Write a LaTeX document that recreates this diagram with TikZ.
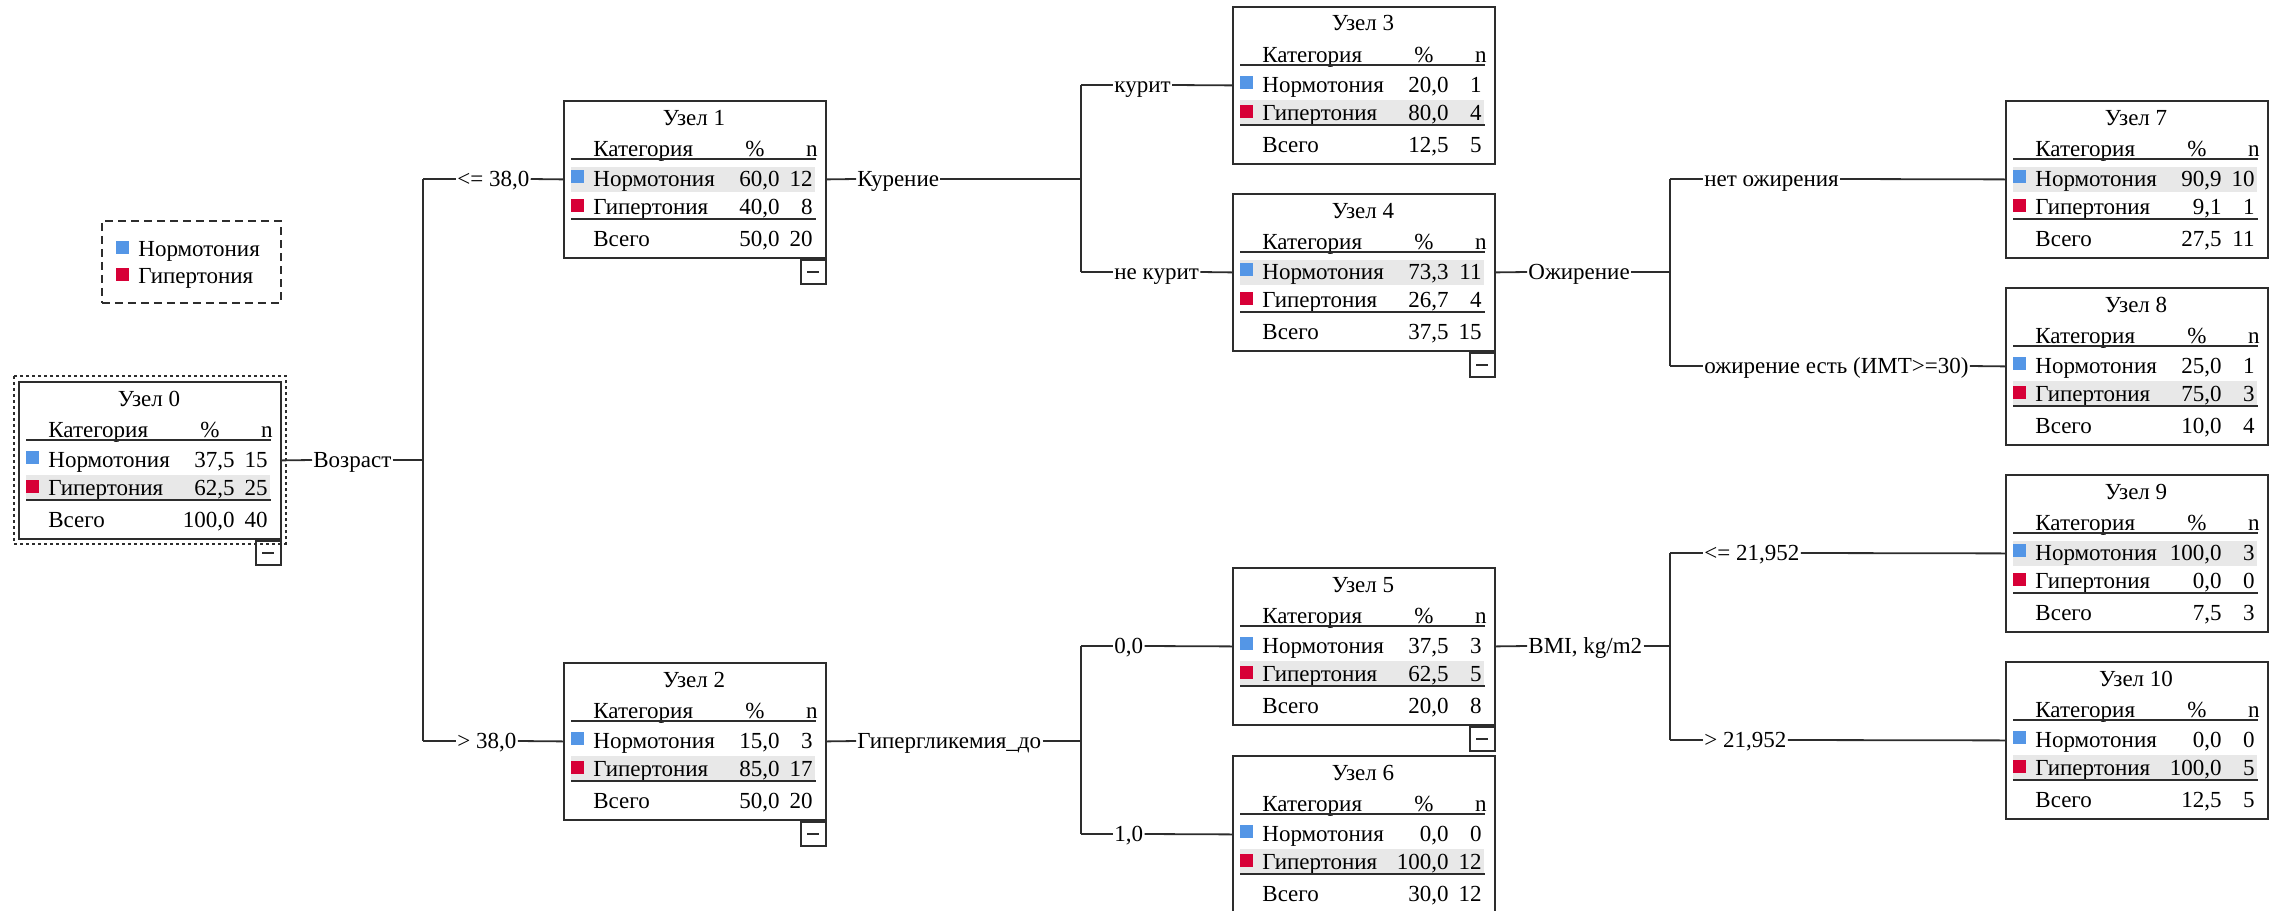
\documentclass[tikz,border=0pt]{standalone}
\usepackage{fontspec}
\setmainfont{Liberation Serif}
\definecolor{cblue}{RGB}{84,150,230}
\definecolor{cred}{RGB}{215,0,55}
\definecolor{hlgray}{RGB}{232,232,232}
\definecolor{lncol}{RGB}{45,45,45}

\tikzset{
 nbox/.style={draw=lncol, line width=0.9pt, minimum width=131pt, minimum height=78.5pt, inner sep=0pt, anchor=north west},
 txt/.style={inner sep=0pt, text height=8.5pt, text depth=1.5pt, font=\fontsize{11.5pt}{13pt}\selectfont},
 lbl/.style={txt, inner sep=0.5pt},
 sq/.style={minimum size=6.5pt, inner sep=0pt},
 conn/.style={draw=lncol, line width=0.9pt},
 tblrule/.style={draw=lncol, line width=0.9pt},
}

\newcommand\valcells[4]{%
  \node[txt, anchor=east] (#1p) at (217,#2) {#3};
  \node[txt, anchor=east] (#1n) at (250,#2) {#4};
}

% #1 name, #2 X, #3 Y, #4 number, #5 highlighted row, #6 row1, #7 row2, #8 total
\newcommand\tnode[8]{%
 \begin{scope}[shift={(#2,#3)}]
  \ifnum#5=1 \fill[hlgray] (8,67) rectangle (252,92); \else \fill[hlgray] (8,94) rectangle (252,118); \fi
  \node[nbox] (#1) at (0,0) {};
  \node[txt] (#1-title) at (131,18) {Узел #4};
  \node[txt, anchor=west] (#1-hc) at (30,49) {Категория};
  \node[txt] (#1-hp) at (192,49) {\%};
  \node[txt, anchor=east] (#1-hn) at (255,49) {n};
  \draw[tblrule] (8,59) -- (253,59);
  \node[sq, fill=cblue] (#1-s1) at (14.5,76) {};
  \node[txt, anchor=west] (#1-c1) at (30,79) {Нормотония};
  \valcells{#1-r1}{79}#6
  \node[sq, fill=cred] (#1-s2) at (14.5,105) {};
  \node[txt, anchor=west] (#1-c2) at (30,107) {Гипертония};
  \valcells{#1-r2}{107}#7
  \draw[tblrule] (8,119) -- (253,119);
  \node[txt, anchor=west] (#1-ct) at (30,139) {Всего};
  \valcells{#1-rt}{139}#8
 \end{scope}}

\newcommand\minusbox[1]{%
 \node[draw=lncol, line width=0.9pt, minimum width=12.5pt, minimum height=12pt, inner sep=0pt, anchor=north east] (#1-mb) at (#1.south east) {};
 \draw[lncol, line width=0.9pt] ([xshift=-3pt]#1-mb.center) -- ([xshift=3pt]#1-mb.center);
}

\begin{document}
\begin{tikzpicture}[x=0.5pt, y=-0.5pt]
\useasboundingbox (0,0) rectangle (2280,910);
\clip (0,0) rectangle (2280,910);

% legend
\node[draw=lncol, line width=0.8pt, dash pattern=on 4pt off 2.5pt, minimum width=89.5pt, minimum height=41pt, anchor=north west, inner sep=0pt] (leg) at (101,220) {};
\node[sq, fill=cblue] (leg-s1) at (122.5,247) {};
\node[txt, anchor=west] (leg-t1) at (138,249) {Нормотония};
\node[sq, fill=cred] (leg-s2) at (122.5,274) {};
\node[txt, anchor=west] (leg-t2) at (138,276) {Гипертония};

% tree nodes
\tnode{n0}{18}{381}{0}{2}{{37,5}{15}}{{62,5}{25}}{{100,0}{40}}
\draw[lncol, line width=0.8pt, dash pattern=on 1.5pt off 1.5pt] ([shift={(-2pt,2.5pt)}]n0.north west) rectangle ([shift={(2pt,-2pt)}]n0.south east);
\minusbox{n0}
\tnode{n1}{563}{100}{1}{1}{{60,0}{12}}{{40,0}{8}}{{50,0}{20}}
\minusbox{n1}
\tnode{n2}{563}{662}{2}{2}{{15,0}{3}}{{85,0}{17}}{{50,0}{20}}
\minusbox{n2}
\tnode{n3}{1232}{6}{3}{2}{{20,0}{1}}{{80,0}{4}}{{12,5}{5}}
\tnode{n4}{1232}{193}{4}{1}{{73,3}{11}}{{26,7}{4}}{{37,5}{15}}
\minusbox{n4}
\tnode{n5}{1232}{567}{5}{2}{{37,5}{3}}{{62,5}{5}}{{20,0}{8}}
\minusbox{n5}
\tnode{n6}{1232}{755}{6}{2}{{0,0}{0}}{{100,0}{12}}{{30,0}{12}}
\tnode{n7}{2005}{100}{7}{1}{{90,9}{10}}{{9,1}{1}}{{27,5}{11}}
\tnode{n8}{2005}{287}{8}{2}{{25,0}{1}}{{75,0}{3}}{{10,0}{4}}
\tnode{n9}{2005}{474}{9}{1}{{100,0}{3}}{{0,0}{0}}{{7,5}{3}}
\tnode{n10}{2005}{661}{10}{2}{{0,0}{0}}{{100,0}{5}}{{12,5}{5}}

% split of node 0
\node[lbl, anchor=west] (d0) at (312,460) {Возраст};
\coordinate (j0) at (423,460);
\coordinate (j0a) at (423,179);
\coordinate (j0b) at (423,741);
\draw[conn] (n0.east) -- (d0.west);
\draw[conn] (d0.east) -- (j0);
\draw[conn] (j0a) -- (j0b);
\node[lbl, anchor=west] (e1) at (456,179) {<= 38,0};
\node[lbl, anchor=west] (e2) at (456,741) {> 38,0};
\draw[conn] (j0a) -- (e1.west);
\draw[conn] (e1.east) -- (n1.west);
\draw[conn] (j0b) -- (e2.west);
\draw[conn] (e2.east) -- (n2.west);

% split of node 1
\node[lbl, anchor=west] (d1) at (856,179) {Курение};
\coordinate (j1) at (1081,179);
\coordinate (j1a) at (1081,85);
\coordinate (j1b) at (1081,272);
\draw[conn] (n1.east) -- (d1.west);
\draw[conn] (d1.east) -- (j1);
\draw[conn] (j1a) -- (j1b);
\node[lbl, anchor=west] (e3) at (1113,85) {курит};
\node[lbl, anchor=west] (e4) at (1113,272) {не курит};
\draw[conn] (j1a) -- (e3.west);
\draw[conn] (e3.east) -- (n3.west);
\draw[conn] (j1b) -- (e4.west);
\draw[conn] (e4.east) -- (n4.west);

% split of node 2
\node[lbl, anchor=west] (d2) at (856,741) {Гипергликемия\_до};
\coordinate (j2) at (1081,741);
\coordinate (j2a) at (1081,646);
\coordinate (j2b) at (1081,834);
\draw[conn] (n2.east) -- (d2.west);
\draw[conn] (d2.east) -- (j2);
\draw[conn] (j2a) -- (j2b);
\node[lbl, anchor=west] (e5) at (1113,646) {0,0};
\node[lbl, anchor=west] (e6) at (1113,834) {1,0};
\draw[conn] (j2a) -- (e5.west);
\draw[conn] (e5.east) -- (n5.west);
\draw[conn] (j2b) -- (e6.west);
\draw[conn] (e6.east) -- (n6.west);

% split of node 4
\node[lbl, anchor=west] (d4) at (1527,272) {Ожирение};
\coordinate (j4) at (1670,272);
\coordinate (j4a) at (1670,179);
\coordinate (j4b) at (1670,366);
\draw[conn] (n4.east) -- (d4.west);
\draw[conn] (d4.east) -- (j4);
\draw[conn] (j4a) -- (j4b);
\node[lbl, anchor=west] (e7) at (1703,179) {нет ожирения};
\node[lbl, anchor=west] (e8) at (1703,366) {ожирение есть (ИМТ>=30)};
\draw[conn] (j4a) -- (e7.west);
\draw[conn] (e7.east) -- (n7.west);
\draw[conn] (j4b) -- (e8.west);
\draw[conn] (e8.east) -- (n8.west);

% split of node 5
\node[lbl, anchor=west] (d5) at (1527,646) {BMI, kg/m2};
\coordinate (j5) at (1670,646);
\coordinate (j5a) at (1670,553);
\coordinate (j5b) at (1670,740);
\draw[conn] (n5.east) -- (d5.west);
\draw[conn] (d5.east) -- (j5);
\draw[conn] (j5a) -- (j5b);
\node[lbl, anchor=west] (e9) at (1703,553) {<= 21,952};
\node[lbl, anchor=west] (e10) at (1703,740) {> 21,952};
\draw[conn] (j5a) -- (e9.west);
\draw[conn] (e9.east) -- (n9.west);
\draw[conn] (j5b) -- (e10.west);
\draw[conn] (e10.east) -- (n10.west);
\end{tikzpicture}
\end{document}
